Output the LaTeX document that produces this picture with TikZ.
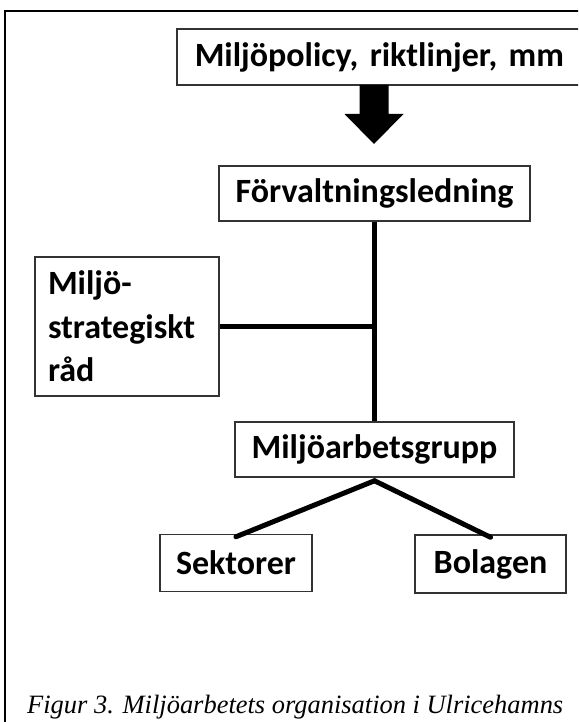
\documentclass[tikz,border=0pt]{standalone}
\usepackage{fontspec}
\usepackage{graphicx}
\setmainfont{Carlito}
\newfontfamily\capfont{Liberation Serif}
\tikzset{
  box/.style={draw=black!80, line width=1.5pt, fill=white, inner sep=0pt,
    font=\fontsize{34pt}{43.5pt}\selectfont\bfseries},
  conn/.style={line width=5pt, black},
}
\begin{document}
\begin{tikzpicture}[x=1pt,y=-1pt]
\useasboundingbox (0,0) rectangle (578,722);
\clip (0,0) rectangle (578,722);
\fill[white] (0,0) rectangle (578,722);
% outer frame
\draw[line width=2pt] (5,760) -- (5,11) -- (620,11);
% top box
\node[box, anchor=west, text width=430pt, minimum height=56pt, inner xsep=18pt, align=left] (policy) at (176,57) {Miljöpolicy, riktlinjer, mm};
% block arrow
\coordinate (ah) at (374,85);
\fill[black] ([xshift=-14.5pt]ah) -- ([xshift=14.5pt]ah) -- ([xshift=14.5pt,yshift=-29pt]ah)
  -- ([xshift=29.5pt,yshift=-29pt]ah) -- ([yshift=-59pt]ah) -- ([xshift=-29.5pt,yshift=-29pt]ah)
  -- ([xshift=-14.5pt,yshift=-29pt]ah) -- cycle;
% boxes
\node[box, minimum width=311pt, minimum height=55pt] (forv) at (374.5,193.5) {Förvaltningsledning};
\node[box, text width=158pt, inner xsep=13pt, minimum height=139pt, align=left] (rad) at (127,326.5) {Miljö-\\strategiskt\\råd};
\node[box, minimum width=279pt, minimum height=55pt] (mag) at (374.5,449.5) {Miljöarbetsgrupp};
\node[box, minimum width=152pt, minimum height=57pt] (sek) at (236,563) {Sektorer};
\node[box, minimum width=151pt, minimum height=58pt] (bol) at (490.5,564) {Bolagen};
% connectors
\begin{scope}[on background layer/.style={}]
\end{scope}
\draw[conn] ([xshift=-0.5pt]forv.south) -- ([xshift=-0.5pt]mag.north);
\draw[conn] (rad.east) -- (rad.east -| mag.north);
\draw[conn, line cap=round] ([yshift=-3pt]mag.south) -- ([yshift=-3pt]sek.north);
\draw[conn, line cap=round] ([yshift=-3pt]mag.south) -- ([yshift=-3pt]bol.north);
% caption
\node[anchor=base west, inner sep=0pt] (cap) at (27,713) {\resizebox{536pt}{!}{\capfont\itshape\fontsize{24pt}{28pt}\selectfont Figur 3. Miljöarbetets organisation i Ulricehamns}};
\end{tikzpicture}
\end{document}
